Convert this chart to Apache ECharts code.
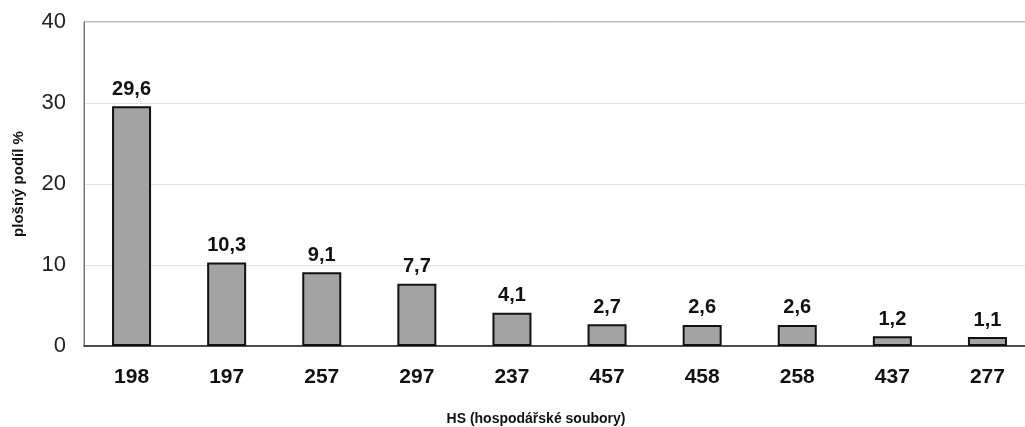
<!DOCTYPE html>
<html><head><meta charset="utf-8">
<script src="https://cdn.jsdelivr.net/npm/echarts@6/dist/echarts.min.js"></script>
<style>html,body{margin:0;padding:0;background:#fff;overflow:hidden}#c{width:1040px;height:427px}</style>
</head><body><div id="c"></div>
<script>
const categories = ['198','197','257','297','237','457','458','258','437','277'];
const values = [29.6, 10.3, 9.1, 7.7, 4.1, 2.7, 2.6, 2.6, 1.2, 1.1];
const yTicks = [0, 10, 20, 30, 40];
const chart = echarts.init(document.getElementById('c'));
chart.setOption({
  backgroundColor: '#fff',
  animation: false,
  grid: { left: 84, right: 5, top: 22, height: 324, show: true, borderColor: '#777', borderWidth: 1 },
  title: { text: 'HS (hospodářské soubory)', left: 531, top: 407, textAlign: 'center',
    textStyle: { fontFamily: 'Liberation Sans, Arial', fontSize: 14, fontWeight: 'bold', color: '#111' } },
  xAxis: {
    type: 'category', data: categories,
    axisLine: { lineStyle: { color: '#222', width: 1.5 } },
    axisTick: { show: false },
    axisLabel: { fontFamily: 'Liberation Sans, Arial', fontSize: 21, fontWeight: 'bold', color: '#111', margin: 21 }
  },
  yAxis: {
    type: 'value', min: 0, max: 40, interval: 10,
    name: 'plošný podíl %', nameLocation: 'middle', nameGap: 58, nameRotate: 90,
    nameTextStyle: { fontFamily: 'Liberation Sans, Arial', fontSize: 15, fontWeight: 'bold', color: '#111' },
    axisLine: { show: true, lineStyle: { color: '#777' } },
    axisTick: { show: false },
    axisLabel: { fontFamily: 'Liberation Sans, Arial', fontSize: 22, color: '#222', margin: 18,
      formatter: v => yTicks.includes(v) ? String(v) : '' },
    splitLine: { lineStyle: { color: '#e2e2e2' } }
  },
  series: [{
    type: 'bar', data: values, barWidth: 39,
    itemStyle: { color: '#a3a3a3', borderColor: '#111', borderWidth: 2 },
    label: { show: true, position: 'top', distance: 7, fontFamily: 'Liberation Sans, Arial', fontSize: 20,
      fontWeight: 'bold', color: '#111', formatter: p => String(p.value).replace('.', ',') }
  }]
});
</script></body></html>
